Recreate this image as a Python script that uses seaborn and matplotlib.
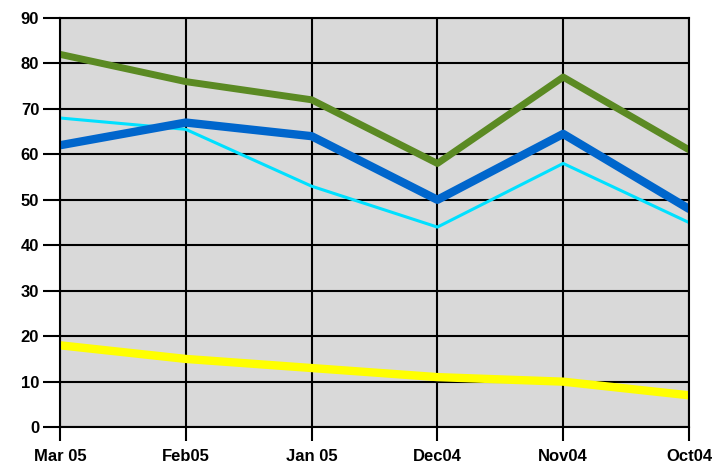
import matplotlib
matplotlib.use("Agg")
import matplotlib.pyplot as plt
import seaborn as sns
import pandas as pd

months = ["Mar 05", "Feb05", "Jan 05", "Dec04", "Nov04", "Oct04"]
green_vals = [82, 76, 72, 58, 77, 61]
blue_vals = [62, 67, 64, 50, 64.5, 48]
cyan_vals = [68, 65.5, 53, 44, 58, 45]
yellow_vals = [18, 15, 13, 11, 10, 7]

series = {"green": green_vals, "blue": blue_vals, "cyan": cyan_vals, "yellow": yellow_vals}
colors = {"green": "#5b8a23", "blue": "#0066cc", "cyan": "#00e0ff", "yellow": "#ffff00"}
widths = {"green": 5, "blue": 6, "cyan": 2.2, "yellow": 6}

rows = []
for name, vals in series.items():
    for m, v in zip(months, vals):
        rows.append({"month": m, "value": v, "series": name})
df = pd.DataFrame(rows)

sns.set_style("white")
plt.rcParams["font.family"] = ["Liberation Sans Narrow", "Liberation Sans", "DejaVu Sans"]

fig = plt.figure(figsize=(7.14, 4.73), dpi=100)
ax = fig.add_axes([0.084, 0.097, 0.881, 0.865])
ax.set_facecolor("#d9d9d9")

for name in ["yellow", "cyan", "blue", "green"]:
    sub = df[df["series"] == name]
    sns.lineplot(data=sub, x="month", y="value", color=colors[name],
                 linewidth=widths[name], ax=ax, sort=False, legend=False)

ax.set_xlim(0, len(months) - 1)
ax.set_ylim(0, 90)
ax.set_yticks(range(0, 91, 10))
ax.set_xticks(range(len(months)))
ax.set_xticklabels(months)
ax.grid(True, color="black", linewidth=1.5)
ax.set_axisbelow(True)
for s in ax.spines.values():
    s.set_color("black")
    s.set_linewidth(1.5)
ax.tick_params(axis="both", which="major", bottom=True, left=True, direction="out",
               width=1.5, color="black", labelcolor="black", labelsize=12)
ax.tick_params(axis="y", length=12, pad=3)
ax.tick_params(axis="x", length=10, pad=6)
for lbl in ax.get_xticklabels() + ax.get_yticklabels():
    lbl.set_fontweight("bold")
ax.set_xlabel("")
ax.set_ylabel("")

plt.savefig("out.png", dpi=100)
plt.close()
